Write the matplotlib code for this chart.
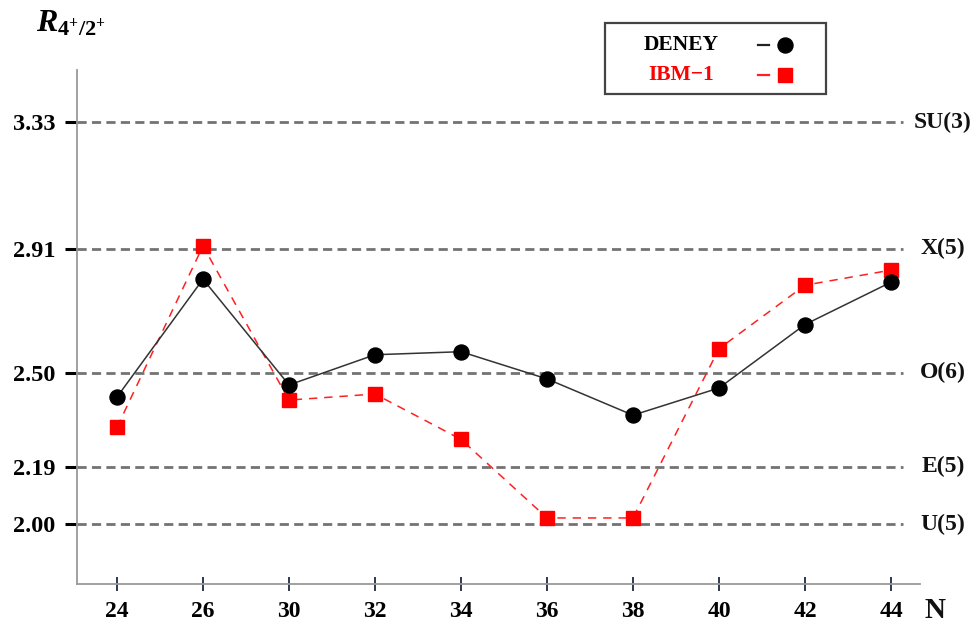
import matplotlib
matplotlib.use("Agg")
import matplotlib.pyplot as plt
from matplotlib.lines import Line2D
from matplotlib.patches import Rectangle

# Neutron numbers and R(4+/2+) ratios
neutrons = ["24", "26", "30", "32", "34", "36", "38", "40", "42", "44"]
deney = [2.42, 2.81, 2.46, 2.56, 2.57, 2.48, 2.36, 2.45, 2.66, 2.80]
ibm1 = [2.32, 2.92, 2.41, 2.43, 2.28, 2.02, 2.02, 2.58, 2.79, 2.84]

# Dynamical-symmetry limits
limit_values = [3.33, 2.91, 2.50, 2.19, 2.00]
limit_names = ["SU(3)", "X(5)", "O(6)", "E(5)", "U(5)"]
ytick_labels = ["3.33", "2.91", "2.50", "2.19", "2.00"]

serif = "Liberation Serif"
plt.rcParams["mathtext.fontset"] = "custom"
plt.rcParams["mathtext.rm"] = "Liberation Serif:bold"
plt.rcParams["mathtext.it"] = "Liberation Serif:italic:bold"
plt.rcParams["mathtext.bf"] = "Liberation Serif:bold"

W, H = 979, 625
fig = plt.figure(figsize=(W / 100, H / 100), dpi=100)

# axes box in pixels: left 77, right 920, top 70, bottom 584
ax = fig.add_axes([77 / W, (H - 584) / H, (920 - 77) / W, (584 - 70) / H])

x = list(range(len(neutrons)))
xmin, xmax = -0.465, 9.337
ax.set_xlim(xmin, xmax)
ax.set_ylim(1.8015, 3.502)

# reference lines with their labels on the right
for val, name in zip(limit_values, limit_names):
    ax.plot([xmin, 9.14], [val, val], color="#737373", lw=2.0,
            linestyle=(0, (3.3, 1.9)), zorder=1, clip_on=False)
    ax.text(9.605, val, name, ha="center", va="center", fontsize=17,
            fontweight="bold", family=serif, color="#111111", clip_on=False)

ax.plot(x, ibm1, color="#ff2020", lw=1.1, linestyle=(0, (5.5, 4.5)),
        marker="s", markersize=9.8, markerfacecolor="#ff0000",
        markeredgecolor="#ff0000", zorder=3)
ax.plot(x, deney, color="#333333", lw=1.1, marker="o", markersize=10.8,
        markerfacecolor="black", markeredgecolor="black", zorder=4)

ax.set_xticks(x)
ax.set_xticklabels(neutrons)
ax.set_yticks(limit_values)
ax.set_yticklabels(ytick_labels)

for lab in ax.get_xticklabels():
    lab.set_family(serif)
    lab.set_fontweight("bold")
    lab.set_fontsize(17)
for lab in ax.get_yticklabels():
    lab.set_family(serif)
    lab.set_fontweight("bold")
    lab.set_fontsize(17.5)

ax.tick_params(axis="x", direction="inout", length=9.4, width=1.3,
               color="#1f2a44", pad=7.5)
ax.tick_params(axis="y", direction="out", length=8.5, width=2.2,
               color="black", pad=7)

for side in ("top", "right"):
    ax.spines[side].set_visible(False)
for side in ("left", "bottom"):
    ax.spines[side].set_color("#999999")
    ax.spines[side].set_linewidth(1.3)

# axis titles
fig.text(935 / W, 1 - 611 / H, "N", ha="center", va="center",
         fontsize=21, fontweight="bold", family=serif, color="#111111")
fig.text(36 / W, 1 - 31 / H, r"$R_{4^{+}/2^{+}}$", ha="left",
         va="baseline", fontsize=23, color="black")

# legend box
def fx(px):
    return px / W


def fy(py):
    return 1 - py / H


fig.patches.append(Rectangle((fx(605), fy(94)), fx(826) - fx(605),
                             fy(23) - fy(94), transform=fig.transFigure,
                             facecolor="white", edgecolor="#444444",
                             lw=1.6, zorder=10))
fig.text(fx(681), fy(45), "DENEY", ha="center", va="center", fontsize=15.5,
         fontweight="bold", family=serif, color="black", zorder=11)
fig.text(fx(681), fy(75), "IBM\u22121", ha="center", va="center",
         fontsize=15.5, fontweight="bold", family=serif, color="#ff0000",
         zorder=11)
fig.lines.append(Line2D([fx(758), fx(769)], [fy(45), fy(45)],
                        transform=fig.transFigure, color="#222222", lw=1.6,
                        zorder=11))
fig.lines.append(Line2D([fx(785)], [fy(45)], transform=fig.transFigure,
                        marker="o", markersize=10.8, color="black",
                        linestyle="none", zorder=11))
fig.lines.append(Line2D([fx(758), fx(769)], [fy(75), fy(75)],
                        transform=fig.transFigure, color="#ff2020", lw=1.6,
                        zorder=11))
fig.lines.append(Line2D([fx(785)], [fy(75)], transform=fig.transFigure,
                        marker="s", markersize=9.8, color="#ff0000",
                        linestyle="none", zorder=11))

fig.savefig("out.png", dpi=100)
